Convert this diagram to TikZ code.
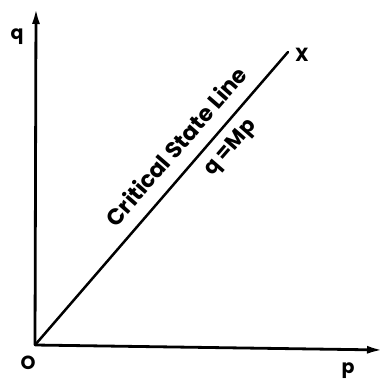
\documentclass[tikz,border=0pt]{standalone}
\usepackage{fontspec}
\setmainfont{Poppins}
\usetikzlibrary{arrows.meta}

\begin{document}
\begin{tikzpicture}[x=1pt,y=-1pt,
    axis/.style={line width=2.8pt,-{Latex[length=16pt,width=8pt]}},
    csl/.style={line width=2.5pt},
    lbl/.style={font=\bfseries\fontsize{19}{19}\selectfont,inner sep=0pt}]
    \useasboundingbox (0,0) rectangle (383,381);
    % axes
    \coordinate (O) at (35,345);
    \coordinate (qend) at (36,8);
    \coordinate (pend) at (383,350);
    \draw[axis] (O) -- (qend);
    \draw[axis] (O) -- (pend);
    % critical state line
    \coordinate (X) at (288,52);
    \draw[csl,line cap=round] (O) -- (X);
    \node[lbl] (xlbl) at (302,55) {X};
    \node[lbl] (qlbl) at (17,37) {q};
    \node[lbl] (olbl) at (28,363) {O};
    \node[lbl] (plbl) at (348,371) {p};
    \node[lbl,rotate=49,font=\bfseries\fontsize{22.5}{22.5}\selectfont] (name) at (176,146) {Critical State Line};
    \node[lbl,rotate=49,font=\bfseries\fontsize{21}{21}\selectfont] (eq) at (231,148) {q =Mp};
\end{tikzpicture}
\end{document}
